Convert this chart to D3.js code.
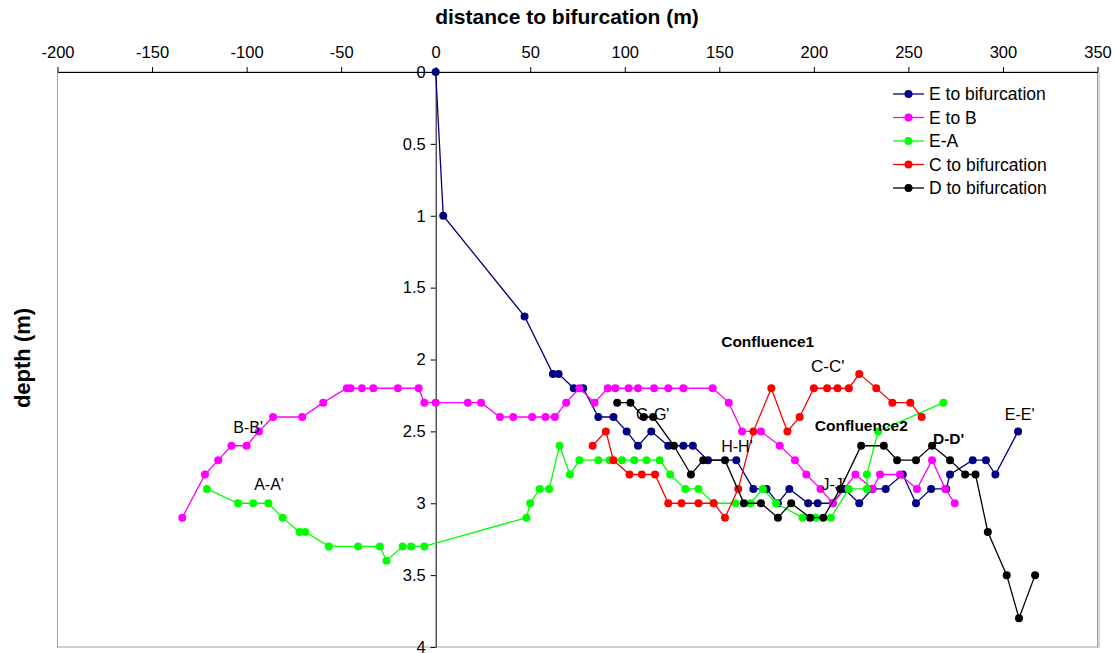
<!DOCTYPE html>
<html>
<head>
<meta charset="utf-8">
<script src="https://cdn.jsdelivr.net/npm/d3@7"></script>
<style>
  html, body { margin: 0; padding: 0; background: #fff; }
  svg { display: block; font-family: "Liberation Sans", Arial, sans-serif; }
</style>
</head>
<body>
<svg id="chart" width="1116" height="653"></svg>
<script>
// ---- data ----
const xTicks = [-200, -150, -100, -50, 0, 50, 100, 150, 200, 250, 300, 350];
const yTicks = [0, 0.5, 1, 1.5, 2, 2.5, 3, 3.5, 4];

const eBifX = [0, 4, 47, 62, 65, 73, 78, 86, 94, 101, 107, 114, 123, 131, 136, 144, 159, 168, 175, 181, 187, 197, 202, 210, 216, 224, 231, 238, 247, 254, 262, 270, 272, 284, 291, 296, 308];
const eBifY = [0, 1, 1.7, 2.1, 2.1, 2.2, 2.2, 2.4, 2.4, 2.5, 2.6, 2.5, 2.6, 2.6, 2.6, 2.7, 2.7, 2.9, 2.9, 3.0, 2.9, 3.0, 3.0, 3.0, 2.9, 3.0, 2.9, 2.9, 2.8, 3.0, 2.9, 2.9, 2.8, 2.7, 2.7, 2.8, 2.5];

const eBX = [-134, -122, -115, -108, -100, -93.5, -86, -70.6, -59.5, -47, -45, -39, -33, -20, -9, -6, 0, 17, 24, 34, 41, 51, 58, 63, 69, 76, 84, 91, 95, 102, 107, 115.5, 123, 131, 146.5, 155, 162, 172, 182, 190, 196, 203.5, 210, 222, 231, 235, 245.5, 254.5, 262.5, 269.5, 274.5];
const eBY = [3.1, 2.8, 2.7, 2.6, 2.6, 2.5, 2.4, 2.4, 2.3, 2.2, 2.2, 2.2, 2.2, 2.2, 2.2, 2.3, 2.3, 2.3, 2.3, 2.4, 2.4, 2.4, 2.4, 2.4, 2.3, 2.2, 2.3, 2.2, 2.2, 2.2, 2.2, 2.2, 2.2, 2.2, 2.2, 2.3, 2.5, 2.5, 2.6, 2.7, 2.8, 2.9, 3.0, 2.8, 2.9, 2.8, 2.8, 2.9, 2.7, 2.9, 3.0];

const eAX = [-121, -104.5, -96.5, -88.5, -81, -72, -69, -56.5, -41, -29.5, -26, -17.5, -13, -6, 48, 50, 55, 60, 65.5, 71, 76, 86, 92, 98.5, 105, 111.5, 118.5, 124, 132, 139, 147, 158.5, 166.5, 173, 180, 194, 201, 209, 218.5, 228, 228, 234, 268.5];
const eAY = [2.9, 3.0, 3.0, 3.0, 3.1, 3.2, 3.2, 3.3, 3.3, 3.3, 3.4, 3.3, 3.3, 3.3, 3.1, 3.0, 2.9, 2.9, 2.6, 2.8, 2.7, 2.7, 2.7, 2.7, 2.7, 2.7, 2.7, 2.8, 2.9, 2.9, 3.0, 3.0, 3.0, 2.9, 3.0, 3.1, 3.1, 3.1, 2.9, 2.9, 2.8, 2.5, 2.3];

const cBifX = [83, 90, 94, 102.5, 109, 116, 123, 130, 139, 147, 153, 160, 168, 177.5, 186, 192.5, 200, 207, 212.5, 218.5, 224, 233, 241.5, 251, 257];
const cBifY = [2.6, 2.5, 2.7, 2.8, 2.8, 2.8, 3.0, 3.0, 3.0, 3.0, 3.1, 2.9, 2.5, 2.2, 2.5, 2.4, 2.2, 2.2, 2.2, 2.2, 2.1, 2.2, 2.3, 2.3, 2.4];

const dBifX = [96, 103, 110, 115, 126, 135, 141.5, 153, 163, 172, 181, 188, 198, 205, 214, 225, 237, 244, 254, 262.5, 272, 280, 285.5, 292, 302, 308.5, 317];
const dBifY = [2.3, 2.3, 2.4, 2.4, 2.6, 2.8, 2.7, 2.7, 3.0, 3.0, 3.1, 3.0, 3.1, 3.1, 2.9, 2.6, 2.6, 2.7, 2.7, 2.6, 2.7, 2.8, 2.8, 3.2, 3.5, 3.8, 3.5];

const seriesNames = ["E to bifurcation", "E to B", "E-A", "C to bifurcation", "D to bifurcation"];
const seriesColors = ["#000080", "#FF00FF", "#00FF00", "#FF0000", "#000000"];
const seriesX = [eBifX, eBX, eAX, cBifX, dBifX];
const seriesY = [eBifY, eBY, eAY, cBifY, dBifY];

const labelText = ["B-B'", "A-A'", "G-G'", "H-H'", "Confluence1", "C-C'", "Confluence2", "D-D'", "J-J'", "E-E'"];
const labelX = [-107, -96, 106, 151, 151, 198.5, 200.5, 263, 204, 301];
const labelY = [2.51, 2.91, 2.42, 2.64, 1.91, 2.09, 2.5, 2.59, 2.91, 2.42];
const labelBold = [false, false, false, false, true, false, true, true, false, false];
const labelSize = [16, 16, 16, 16, 15.5, 17, 15.5, 15.5, 16, 16];

// ---- chart ----
const svg = d3.select("#chart");
const x = d3.scaleLinear().domain([-200, 350]).range([57.5, 1097.5]);
const y = d3.scaleLinear().domain([0, 4]).range([72, 647]);

// frame (grey) on left, right, bottom
svg.append("rect")
  .attr("x", x(-200)).attr("y", y(0))
  .attr("width", x(350) - x(-200)).attr("height", y(4) - y(0))
  .attr("fill", "none").attr("stroke", "#a0a0a0").attr("stroke-width", 1);
svg.append("line")
  .attr("x1", x(350) + 1.5).attr("x2", x(350) + 1.5)
  .attr("y1", y(0)).attr("y2", y(4) + 1)
  .attr("stroke", "#c8c8c8").attr("stroke-width", 1.5);

// top axis
const xAxis = svg.append("g")
  .attr("transform", `translate(0,${y(0)})`)
  .call(d3.axisTop(x).tickValues(xTicks).tickSize(5).tickSizeOuter(0).tickPadding(9)
    .tickFormat(d => String(d)));
xAxis.select(".domain").attr("stroke", "#000");
xAxis.selectAll("text").attr("font-size", 16.5).attr("fill", "#000")
  .attr("font-family", "Liberation Sans, Arial, sans-serif");

// vertical axis at x = 0
const yAxis = svg.append("g")
  .attr("transform", `translate(${x(0)},0)`)
  .call(d3.axisLeft(y).tickValues(yTicks).tickSize(5).tickSizeOuter(0).tickPadding(5)
    .tickFormat(d => String(d)));
yAxis.select(".domain").attr("stroke", "#000");
yAxis.selectAll("text").attr("font-size", 16.5).attr("fill", "#000")
  .attr("font-family", "Liberation Sans, Arial, sans-serif");

// axis titles
svg.append("text")
  .attr("x", 567).attr("y", 24)
  .attr("text-anchor", "middle").attr("font-size", 21).attr("font-weight", "bold")
  .text("distance to bifurcation (m)");
svg.append("text")
  .attr("transform", `translate(30,358) rotate(-90)`)
  .attr("text-anchor", "middle").attr("font-size", 22).attr("font-weight", "bold")
  .text("depth (m)");

// series
const line = d3.line().x(d => x(d[0])).y(d => y(d[1]));
seriesNames.forEach((name, i) => {
  const pts = seriesX[i].map((v, j) => [v, seriesY[i][j]]);
  const g = svg.append("g");
  g.append("path").datum(pts)
    .attr("d", line).attr("fill", "none")
    .attr("stroke", seriesColors[i]).attr("stroke-width", 1.3);
  g.selectAll("circle").data(pts).enter().append("circle")
    .attr("cx", d => x(d[0])).attr("cy", d => y(d[1])).attr("r", 4)
    .attr("fill", seriesColors[i]);
});

// annotations
labelText.forEach((t, i) => {
  svg.append("text")
    .attr("x", x(labelX[i])).attr("y", y(labelY[i]))
    .attr("font-size", labelSize[i])
    .attr("font-weight", labelBold[i] ? "bold" : "normal")
    .attr("fill", "#000")
    .text(t);
});

// legend
const legend = svg.append("g");
seriesNames.forEach((name, i) => {
  const ly = 94 + i * 23.5;
  legend.append("line").attr("x1", 893).attr("x2", 924).attr("y1", ly).attr("y2", ly)
    .attr("stroke", seriesColors[i]).attr("stroke-width", 1.3);
  legend.append("circle").attr("cx", 908.5).attr("cy", ly).attr("r", 4).attr("fill", seriesColors[i]);
  legend.append("text").attr("x", 929).attr("y", ly + 6)
    .attr("font-size", 17.5).attr("fill", "#000").text(name);
});
</script>
</body>
</html>
